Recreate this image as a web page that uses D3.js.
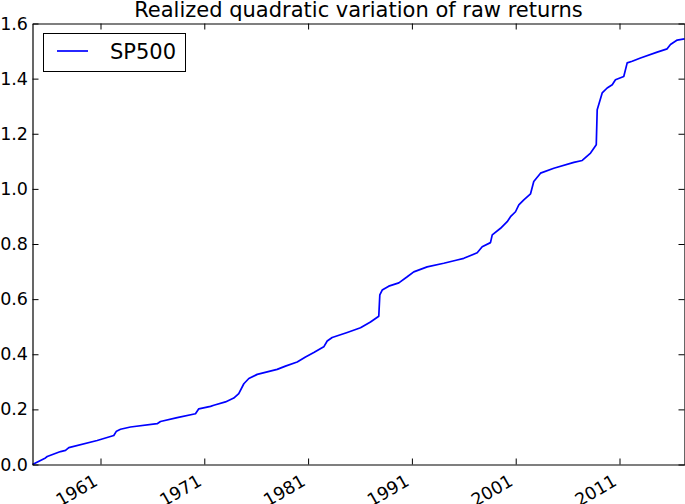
<!DOCTYPE html>
<html>
<head>
<meta charset="utf-8">
<script src="https://cdn.jsdelivr.net/npm/d3@7"></script>
<style>
body { margin: 0; background: #fff; }
text { font-family: "DejaVu Sans", sans-serif; }
</style>
</head>
<body>
<svg id="chart"></svg>
<script>
var canvas_width = 685;
var canvas_height = 504;
var left = 32.5, right = 684.5, top_y = 23.5, bottom = 464.5;

// decimal years and cumulative realized variance
let years = [1954.45, 1955.70, 1955.87, 1957.15, 1957.63, 1957.95, 1960.68, 1962.28, 1962.54, 1962.93,
    1963.89, 1966.46, 1966.78, 1968.39, 1970.15, 1970.47, 1971.60, 1971.92, 1973.04, 1973.84,
    1974.32, 1974.81, 1975.29, 1976.10, 1978.02, 1978.82, 1979.95, 1980.75, 1981.55, 1982.51,
    1982.84, 1983.32, 1984.77, 1986.05, 1987.01, 1987.81, 1987.91, 1988.14, 1988.77, 1989.74,
    1990.55, 1991.18, 1992.47, 1994.07, 1995.36, 1996.00, 1997.29, 1997.77, 1998.57, 1998.74,
    1999.54, 2000.18, 2000.50, 2000.98, 2001.30, 2001.78, 2002.43, 2002.74, 2003.39, 2004.67,
    2006.60, 2007.41, 2008.21, 2008.76, 2008.85, 2009.33, 2009.81, 2010.30, 2010.61, 2011.41,
    2011.74, 2012.22, 2013.02, 2014.63, 2015.59, 2015.91, 2016.56, 2017.26];
let sp500 = [0.000, 0.024, 0.029, 0.047, 0.051, 0.061, 0.087, 0.105, 0.121, 0.128,
    0.136, 0.148, 0.156, 0.170, 0.184, 0.202, 0.211, 0.215, 0.227, 0.241,
    0.257, 0.293, 0.312, 0.327, 0.345, 0.357, 0.372, 0.390, 0.406, 0.427,
    0.448, 0.461, 0.479, 0.496, 0.517, 0.538, 0.615, 0.633, 0.647, 0.659,
    0.681, 0.699, 0.717, 0.730, 0.742, 0.748, 0.768, 0.790, 0.805, 0.833,
    0.857, 0.881, 0.899, 0.917, 0.942, 0.960, 0.982, 1.027, 1.057, 1.075,
    1.096, 1.103, 1.130, 1.160, 1.287, 1.348, 1.366, 1.378, 1.396, 1.408,
    1.457, 1.463, 1.475, 1.496, 1.508, 1.524, 1.540, 1.544];
let x_ticks = [1961, 1971, 1981, 1991, 2001, 2011];
let y_ticks = [0.0, 0.2, 0.4, 0.6, 0.8, 1.0, 1.2, 1.4, 1.6];

function year_to_date(y){
    let yr = Math.floor(y);
    let a = new Date(yr, 0, 1), b = new Date(yr + 1, 0, 1);
    return new Date(+a + (y - yr) * (b - a));
}

let data = years.map((y, i) => ({date: year_to_date(y), value: sp500[i]}));

let svg = d3.select("#chart");
svg.attr("width", canvas_width).attr("height", canvas_height);

let x = d3.scaleTime().domain(d3.extent(data, d => d.date)).range([left, right]);
let y = d3.scaleLinear().domain([0, 1.6]).range([bottom, top_y]);
let tick_dates = x_ticks.map(t => new Date(t, 0, 1));

svg.append("path")
    .datum(data)
    .attr("fill", "none")
    .attr("stroke", "#0000ff")
    .attr("stroke-width", 1.7)
    .attr("stroke-linejoin", "round")
    .attr("d", d3.line().x(d => x(d.date)).y(d => y(d.value)));

let ax_bottom = svg.append("g")
    .attr("transform", "translate(0," + bottom + ")")
    .call(d3.axisBottom(x).tickValues(tick_dates).tickFormat(d3.timeFormat("%Y"))
        .tickSizeInner(-6).tickSizeOuter(0));
ax_bottom.selectAll("text")
    .attr("y", 0).attr("dy", 0)
    .attr("text-anchor", "end")
    .attr("transform", "translate(-2,20) rotate(-30)");

svg.append("g")
    .attr("transform", "translate(0," + top_y + ")")
    .call(d3.axisTop(x).tickValues(tick_dates).tickFormat("")
        .tickSizeInner(-6).tickSizeOuter(0));

svg.append("g")
    .attr("transform", "translate(" + left + ",0)")
    .call(d3.axisLeft(y).tickValues(y_ticks).tickFormat(d3.format(".1f"))
        .tickSizeInner(-6).tickSizeOuter(0).tickPadding(4.5));

svg.append("g")
    .attr("transform", "translate(" + right + ",0)")
    .call(d3.axisRight(y).tickValues(y_ticks).tickFormat("")
        .tickSizeInner(-6).tickSizeOuter(0));

svg.selectAll(".tick text")
    .style("font-family", "DejaVu Sans")
    .style("font-size", "17.5px")
    .attr("fill", "#000");
svg.selectAll(".domain").attr("stroke", "#000").attr("stroke-width", 1.2);
svg.selectAll(".tick line").attr("stroke", "#000").attr("stroke-width", 1);

svg.append("text")
    .attr("x", (left + right) / 2)
    .attr("y", 16.5)
    .attr("text-anchor", "middle")
    .style("font-size", "21px")
    .text("Realized quadratic variation of raw returns");

// legend
let legend = svg.append("g");
legend.append("rect")
    .attr("x", 43.5).attr("y", 33.5)
    .attr("width", 142).attr("height", 38)
    .attr("fill", "#fff").attr("stroke", "#000").attr("stroke-width", 1);
legend.append("line")
    .attr("x1", 57).attr("x2", 88)
    .attr("y1", 51).attr("y2", 51)
    .attr("stroke", "#0000ff").attr("stroke-width", 1.7);
legend.append("text")
    .attr("x", 110).attr("y", 58.5)
    .style("font-size", "21px")
    .text("SP500");
</script>
</body>
</html>
